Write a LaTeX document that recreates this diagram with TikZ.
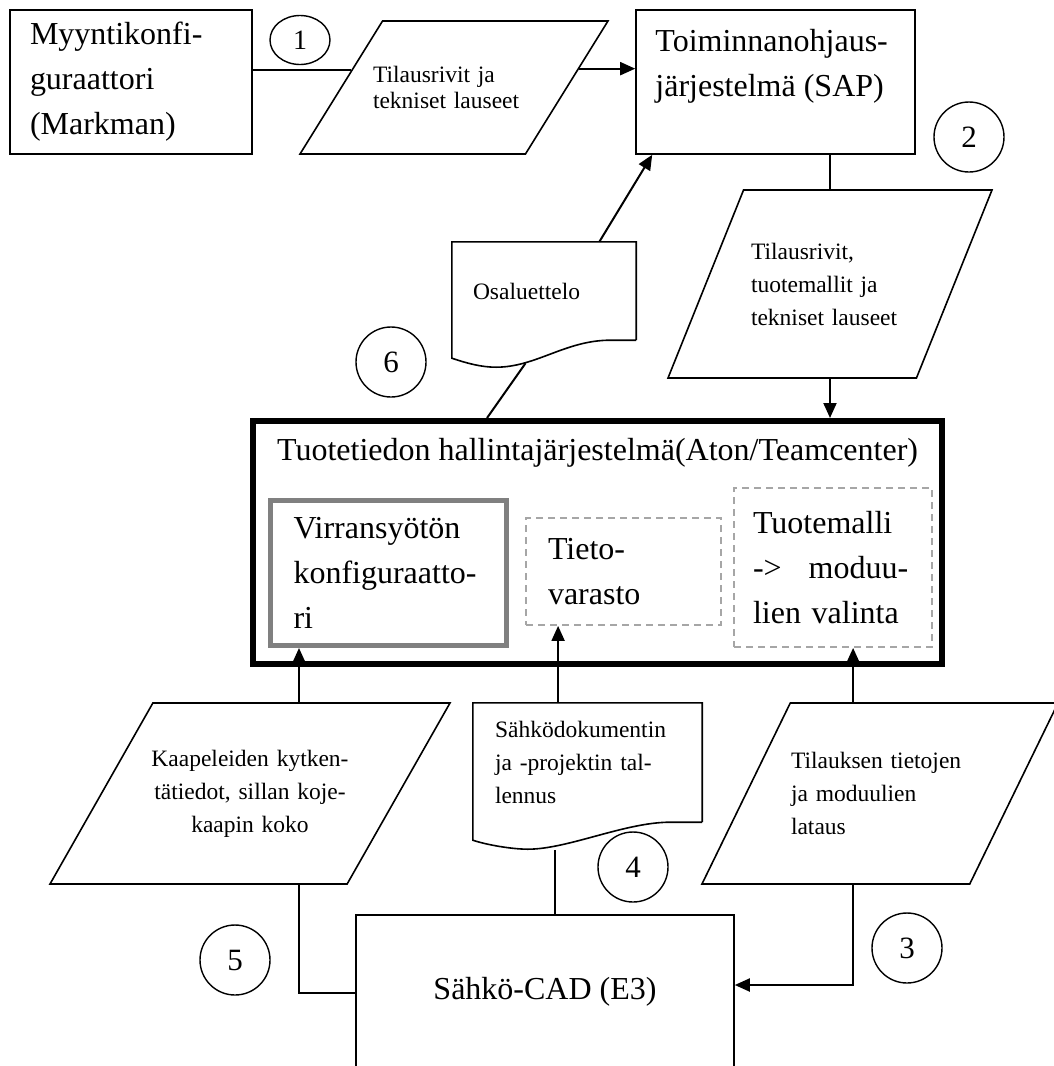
\documentclass[tikz,border=0pt]{standalone}
\usepackage{fontspec}
\setmainfont{Liberation Serif}
\usetikzlibrary{arrows.meta, shapes.geometric, positioning, calc}

\tikzset{
  box/.style={draw, line width=1.6pt, rectangle, inner sep=0pt},
  bigtxt/.style={font=\fontsize{32}{45}\selectfont, align=left, inner sep=0pt},
  smalltxt/.style={font=\fontsize{23.5}{33}\selectfont, align=left, inner sep=0pt},
  para/.style={draw, line width=1.6pt, trapezium, trapezium stretches=true, inner sep=2pt},
  nro/.style={draw, line width=1.4pt, circle, minimum size=70, inner sep=0pt, font=\fontsize{31}{31}\selectfont},
  graybox/.style={draw=black!50, line width=5pt, rectangle, inner sep=0pt},
  dashbox/.style={draw=black!35, dash pattern=on 7pt off 5pt, line width=1.8pt, rectangle, inner sep=0pt},
  conn/.style={line width=2pt},
  arr/.style={line width=2pt, -{Triangle[length=15pt,width=13pt]}},
}

\newcommand{\docline}[1]{%
  \draw[line width=1.6pt] (#1.south east) -- (#1.north east) -- (#1.north west)
    -- ([yshift=-18]#1.south west)
    .. controls +(15,-5) and +(-15,0) .. ($(#1.south west)!0.24!(#1.south east)+(0,-27)$)
    .. controls +(40,0) and +(-45,0) .. ($(#1.south west)!0.86!(#1.south east)$)
    -- (#1.south east);}

\begin{document}
\begin{tikzpicture}[x=1pt, y=1pt]
\useasboundingbox (0,0) rectangle (1053,-1066);

\node[box, bigtxt, text width=202, minimum width=242, minimum height=144] (myynti) at (131,-82)
  {Myyntikonfi-\\guraattori\\(Markman)};
\node[draw, line width=1.4pt, ellipse, minimum width=60, minimum height=49, inner sep=0pt,
  font=\fontsize{28}{28}\selectfont] (n1) at (300,-40) {1};
\node[para, trapezium left angle=60, trapezium right angle=120, minimum width=308, minimum height=133] (tilaus) at (454,-87.5) {};
\node[smalltxt, font=\fontsize{23.5}{26}\selectfont, text width=162] (tilaustxt) at (tilaus.center) {Tilausrivit ja\\tekniset lauseet};

\node[box, minimum width=279, minimum height=144] (sap) at (775.5,-82) {};
\node[bigtxt, anchor=north west] (saptxt) at ([shift={(20,-20)}]sap.north west) {Toiminnanohjaus-\\järjestelmä (SAP)};
\node[nro] (n2) at (969,-137) {2};

\node[para, trapezium left angle=66.4, trapezium right angle=113.6, minimum width=324, minimum height=188] (tuote) at (830,-284) {};
\node[smalltxt, text width=158] (tuotetxt) at (tuote.center) {Tilausrivit,\\tuotemallit ja\\tekniset lauseet};

\node[smalltxt, text width=142, minimum width=184, minimum height=98] (osa) at (544,-291) {Osaluettelo};
\docline{osa}
\node[nro] (n6) at (391,-362) {6};

\node[draw, line width=6pt, rectangle, minimum width=689, minimum height=243] (pdm) at (597.5,-542.5) {};
\node[bigtxt, anchor=base] (pdmtxt) at ([yshift=-42]pdm.north) {Tuotetiedon hallintajärjestelmä(Aton/Teamcenter)};
\node[graybox, bigtxt, text width=190, minimum width=236, minimum height=145] (virta) at (388.5,-573)
  {Virransyötön\\konfiguraatto-\\ri};
\node[dashbox, bigtxt, text width=151, minimum width=195, minimum height=107] (varasto) at (623.5,-571.5)
  {Tieto-\\varasto};
\node[dashbox, bigtxt, text width=160, minimum width=198, minimum height=159] (malli) at (833,-567.5)
  {Tuotemalli\\->\hspace{27pt}moduu-\\lien valinta};

\node[para, trapezium left angle=62.1, trapezium right angle=117.9, minimum width=400, minimum height=181] (kaapeli) at (250,-793.5) {};
\node[smalltxt, align=center, text width=220] (kaapelitxt) at (kaapeli.center) {Kaapeleiden kytken-\\tätiedot, sillan koje-\\kaapin koko};

\node[smalltxt, text width=185, minimum width=229, minimum height=119] (sahkodoc) at (587.5,-762.5)
  {Sähködokumentin\\ja -projektin tal-\\lennus};
\docline{sahkodoc}
\node[nro] (n4) at (633,-867) {4};

\node[para, trapezium left angle=63.8, trapezium right angle=116.2, minimum width=356, minimum height=181] (tilauk) at (880,-793.5) {};
\node[smalltxt, text width=178] (tilauktxt) at (tilauk.center) {Tilauksen tietojen\\ja moduulien\\lataus};

\node[box, minimum width=378, minimum height=170] (cad) at (545,-1000) {};
\node[bigtxt, anchor=base] (cadtxt) at ([yshift=-85]cad.north) {Sähkö-CAD (E3)};
\node[nro] (n3) at (907,-948) {3};
\node[nro] (n5) at (235,-960) {5};

\coordinate (t1a) at ($(tilaus.bottom left corner)!0.63!(tilaus.top left corner)$);
\coordinate (t1b) at ($(tilaus.bottom right corner)!0.64!(tilaus.top right corner)$);
\draw[conn] (myynti.east |- t1a) -- (t1a);
\draw[arr] (t1b) -- (t1b -| sap.west);
\draw[conn] (sap.south -| tuote.center) -- (tuote.north -| tuote.center);
\draw[arr] (tuote.south -| tuote.center) -- (pdm.north -| tuote.center);

\coordinate (o1) at ($(osa.north west)!0.8!(osa.north east)$);
\coordinate (o2) at ($(osa.south west)!0.4!(osa.south east)+(0,-23)$);
\draw[arr] (o1) -- ([xshift=17]sap.south west);
\draw[conn] (o2) -- ([xshift=237]pdm.north west);

\coordinate (k1) at ([xshift=31]virta.south west);
\coordinate (k2) at ([xshift=33]varasto.south west);
\coordinate (k3) at ([xshift=120]malli.south west);
\draw[arr] (kaapeli.north -| k1) -- (k1);
\draw[arr] (sahkodoc.north -| k2) -- (k2);
\draw[arr] (tilauk.north -| k3) -- (k3);

\coordinate (s1) at ($(sahkodoc.south west)!0.36!(sahkodoc.south east)+(0,-28)$);
\draw[conn] (kaapeli.south -| k1) |- ([yshift=7]cad.west);
\draw[conn] (s1) -- (cad.north -| s1);
\draw[arr] (tilauk.south -| k3) |- ([yshift=15]cad.east);
\end{tikzpicture}
\end{document}
